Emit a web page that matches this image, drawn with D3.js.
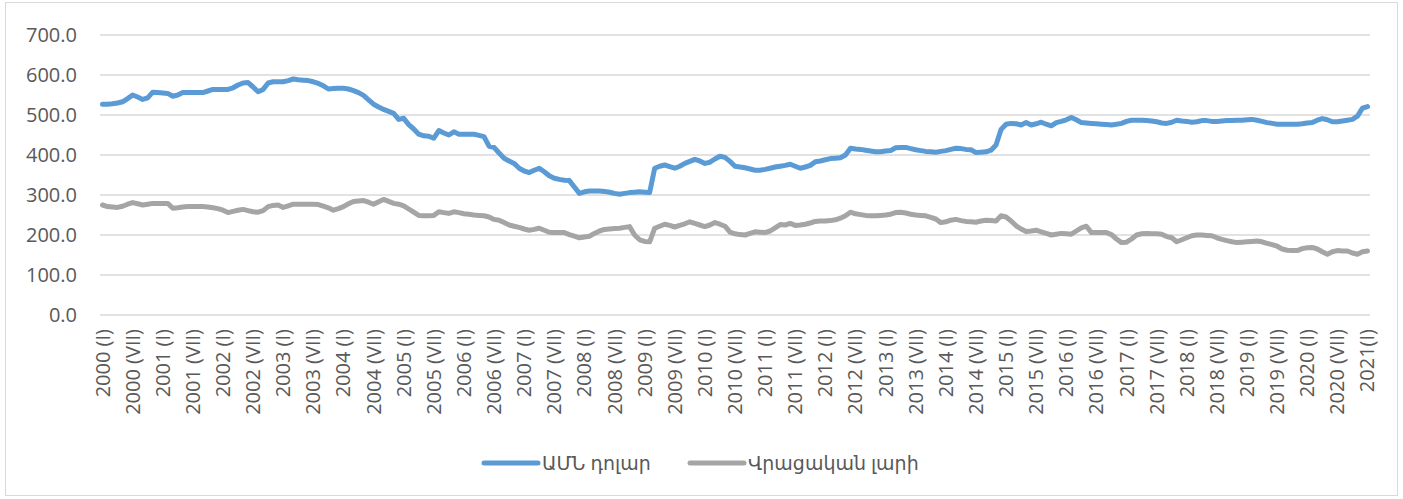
<!DOCTYPE html>
<html>
<head>
<meta charset="utf-8">
<script src="https://cdn.jsdelivr.net/npm/d3@7"></script>
<style>
  body { margin: 0; background: #fff; }
  svg text { font-family: "Open Sans", "DejaVu Sans", sans-serif; fill: #595959; }
</style>
</head>
<body>
<div id="chart"></div>
<script>
// monthly values, 2000 (I) .. 2021 (I)
const usd = [
  527, 527, 528, 530, 533, 541, 550, 545, 539, 543, 557, 556,
  555, 554, 547, 550, 556, 556, 556, 556, 556, 560, 564, 564,
  564, 564, 568, 575, 580, 581, 570, 558, 564, 580, 583, 583,
  583, 586, 590, 588, 587, 586, 583, 579, 573, 565, 566, 567,
  567, 565, 561, 556, 549, 538, 527, 520, 514, 509, 504, 489,
  492, 476, 465, 452, 448, 447, 442, 461, 455, 450, 458, 452,
  452, 452, 452, 449, 446, 422, 419, 405, 392, 385, 379, 367,
  360, 356, 362, 367, 358, 348, 342, 339, 337, 336, 320, 304,
  308, 310, 310, 310, 309, 307, 304, 302, 304, 306, 307, 308,
  307, 306, 367, 372, 375, 371, 367, 372, 379, 384, 389, 385,
  379, 382, 390, 397, 394, 384, 372, 370, 368, 365, 362, 362,
  364, 367, 370, 372, 374, 377, 372, 367, 370, 374, 383, 385,
  388, 391, 392, 393, 400, 417, 415, 414, 412, 410, 408, 408,
  410, 411, 418, 419, 419, 416, 413, 411, 409, 408, 407, 409,
  411, 414, 417, 416, 414, 413, 406, 407, 408, 412, 425, 464,
  477, 479, 478, 475, 481, 475, 478, 482, 477, 473, 481, 484,
  488, 494, 488, 481, 480, 479, 478, 477, 476, 475, 477, 479,
  484, 487, 487, 487, 486, 485, 483, 480, 479, 482, 487, 485,
  484, 482, 483, 486, 486, 484, 484, 485, 486, 486, 487, 487,
  488, 489, 487, 484, 481, 479, 477, 477, 477, 477, 477, 478,
  480, 481, 487, 491, 488, 483, 483, 485, 487, 489, 497, 517,
  521
];
const gel = [
  275, 271, 270, 269, 272, 277, 281, 278, 275, 277, 279, 279,
  279, 279, 267, 268, 270, 271, 271, 271, 271, 270, 268, 266,
  262, 256, 259, 262, 264, 261, 258, 257, 261, 271, 274, 275,
  269, 273, 277, 277, 277, 277, 277, 276, 272, 268, 262, 266,
  271, 278, 284, 285, 286, 282, 277, 283, 289, 284, 279, 277,
  273, 265, 257, 249, 248, 248, 249, 258, 256, 254, 258, 256,
  253, 252, 250, 249, 248, 245, 239, 237, 231, 225, 222, 219,
  215, 212, 214, 217, 212, 207, 206, 206, 206, 201, 197, 193,
  195, 197, 204, 210, 214, 215, 216, 217, 219, 221, 200, 188,
  184, 183, 217, 222, 227, 224, 220, 224, 228, 233, 229, 225,
  221, 225, 231, 227, 222, 207, 203, 201, 200, 204, 208, 207,
  206, 210, 218, 226, 225, 229, 224, 225, 227, 230, 234, 235,
  235, 236, 238, 242, 248, 257, 253, 251, 249, 248, 248, 249,
  250, 252, 256, 257, 255, 252, 250, 249, 248, 244, 240, 231,
  233, 237, 239, 236, 234, 233, 232, 235, 237, 236, 235, 248,
  245, 235, 223, 215, 209, 210, 212, 208, 204, 200, 202, 204,
  203, 202, 210, 218, 222, 206, 206, 206, 206, 201, 190, 181,
  182, 190, 200, 203, 204, 203, 203, 202, 196, 193, 183, 188,
  193, 198, 200, 200, 199, 198, 193, 189, 186, 183, 181, 182,
  183, 184, 185, 183, 179, 176, 172, 165, 162, 161, 161, 166,
  168, 169, 165, 158, 152, 158, 161, 160, 160, 155, 152, 158,
  160
];
// axis labels, one every six months
const tickLabels = [
  '2000 (I)', '2000 (VII)', '2001 (I)', '2001 (VII)', '2002 (I)', '2002 (VII)',
  '2003 (I)', '2003 (VII)', '2004 (I)', '2004 (VII)', '2005 (I)', '2005 (VII)',
  '2006 (I)', '2006 (VII)', '2007 (I)', '2007 (VII)', '2008 (I)', '2008 (VII)',
  '2009 (I)', '2009 (VII)', '2010 (I)', '2010 (VII)', '2011 (I)', '2011 (VII)',
  '2012 (I)', '2012 (VII)', '2013 (I)', '2013 (VII)', '2014 (I)', '2014 (VII)',
  '2015 (I)', '2015 (VII)', '2016 (I)', '2016 (VII)', '2017 (I)', '2017 (VII)',
  '2018 (I)', '2018 (VII)', '2019 (I)', '2019 (VII)', '2020 (I)', '2020 (VII)',
  '2021(I)'
];
const yTicks = [0, 100, 200, 300, 400, 500, 600, 700];
const seriesNames = ['ԱՄՆ դոլար', 'Վրացական լարի'];
const seriesColors = ['#5b9bd5', '#a5a5a5'];

const width = 1403, height = 499;
const svg = d3.select('#chart').append('svg')
  .attr('width', width)
  .attr('height', height);

// chart border
svg.append('rect')
  .attr('x', 5.5).attr('y', 2.5)
  .attr('width', 1392).attr('height', 493)
  .attr('fill', 'none')
  .attr('stroke', '#d9d9d9');

const x = d3.scaleBand()
  .domain(d3.range(usd.length))
  .range([100, 1370]);
const xc = i => x(i) + x.bandwidth() / 2;

const y = d3.scaleLinear()
  .domain([0, 700])
  .range([315, 35]);

// gridlines
svg.append('g')
  .selectAll('line')
  .data(yTicks)
  .enter()
  .append('line')
  .attr('x1', 100).attr('x2', 1370)
  .attr('y1', d => y(d)).attr('y2', d => y(d))
  .attr('stroke', '#d9d9d9')
  .attr('stroke-width', 1.3);

// y axis
const yAxis = svg.append('g')
  .attr('transform', 'translate(100,0)')
  .call(d3.axisLeft(y).tickValues(yTicks).tickFormat(d3.format('.1f')).tickSize(0).tickPadding(23));
yAxis.select('.domain').remove();
yAxis.selectAll('text').style('font-size', '20px').attr('fill', '#595959');

// x labels
svg.append('g')
  .selectAll('text')
  .data(tickLabels)
  .enter()
  .append('text')
  .attr('transform', (d, k) => `translate(${xc(k * 6)},329) rotate(-90)`)
  .attr('text-anchor', 'end')
  .attr('dy', '0.35em')
  .style('font-size', '20px')
  .text(d => d);

// lines
const line = d3.line()
  .x((d, i) => xc(i))
  .y(d => y(d));

[gel, usd].forEach((s, k) => {
  svg.append('path')
    .datum(s)
    .attr('d', line)
    .attr('fill', 'none')
    .attr('stroke', seriesColors[1 - k])
    .attr('stroke-width', 5)
    .attr('stroke-linejoin', 'round')
    .attr('stroke-linecap', 'round');
});

// legend
const legendX = [484, 690];
const legend = svg.append('g');
seriesNames.forEach((name, k) => {
  legend.append('line')
    .attr('x1', legendX[k]).attr('x2', legendX[k] + 54)
    .attr('y1', 463).attr('y2', 463)
    .attr('stroke', seriesColors[k])
    .attr('stroke-width', 5)
    .attr('stroke-linecap', 'round');
  legend.append('text')
    .attr('x', legendX[k] + 58)
    .attr('y', 463)
    .attr('dy', '0.35em')
    .style('font-size', '19px')
    .text(name);
});
</script>
</body>
</html>
